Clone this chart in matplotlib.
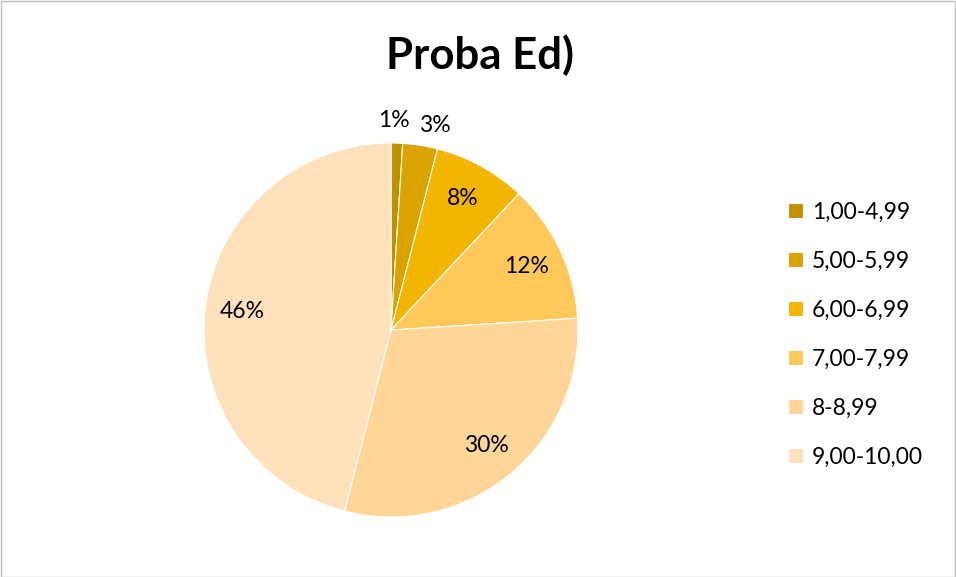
import numpy as np
import matplotlib.pyplot as plt
from matplotlib.patches import Rectangle

labels = ['1,00-4,99', '5,00-5,99', '6,00-6,99', '7,00-7,99', '8-8,99', '9,00-10,00']
values = [1, 3, 8, 12, 30, 46]
colors = ['#BF9000', '#DAA300', '#F2B600', '#FFC858', '#FFD697', '#FFE1BC']

plt.rcParams['font.family'] = ['Lato', 'DejaVu Sans']

W, H = 956, 577
fig = plt.figure(figsize=(W / 100, H / 100), dpi=100)
cx, cy, R = 391, 330, 187
ax = fig.add_axes([(cx - R) / W, (H - cy - R) / H, 2 * R / W, 2 * R / H])

wedges, texts, autotexts = ax.pie(values, colors=colors, startangle=90, counterclock=False,
                                  autopct='%1.0f%%', pctdistance=0.8,
                                  wedgeprops=dict(edgecolor='white', linewidth=0.8),
                                  textprops=dict(fontsize=16.5, color='black'))
ax.set_xlim(-1, 1)
ax.set_ylim(-1, 1)
ax.set_aspect('equal')

# small slices get their labels outside the pie
for w, t, shift in zip(wedges[:2], autotexts[:2], [1.0, -3.0]):
    ang = np.deg2rad((w.theta1 + w.theta2) / 2 + shift)
    t.set_position((1.13 * np.cos(ang), 1.12 * np.sin(ang)))

fig.text(480 / W, 1 - 55 / H, 'Proba Ed)', ha='center', va='center', fontsize=31.5, fontweight='bold')

leg = fig.legend(wedges, labels, loc='upper left', bbox_to_anchor=(767 / W, 1 - 181 / H),
                 frameon=False, fontsize=16.5, handlelength=0.65, handleheight=0.65,
                 handletextpad=0.4, labelspacing=1.22)

fig.patches.append(Rectangle((0.5 / W, 0.5 / H), 1 - 1.5 / W, 1 - 1.5 / H, transform=fig.transFigure,
                             fill=False, edgecolor='#BFBFBF', linewidth=1))

fig.savefig('out.png', dpi=100)
